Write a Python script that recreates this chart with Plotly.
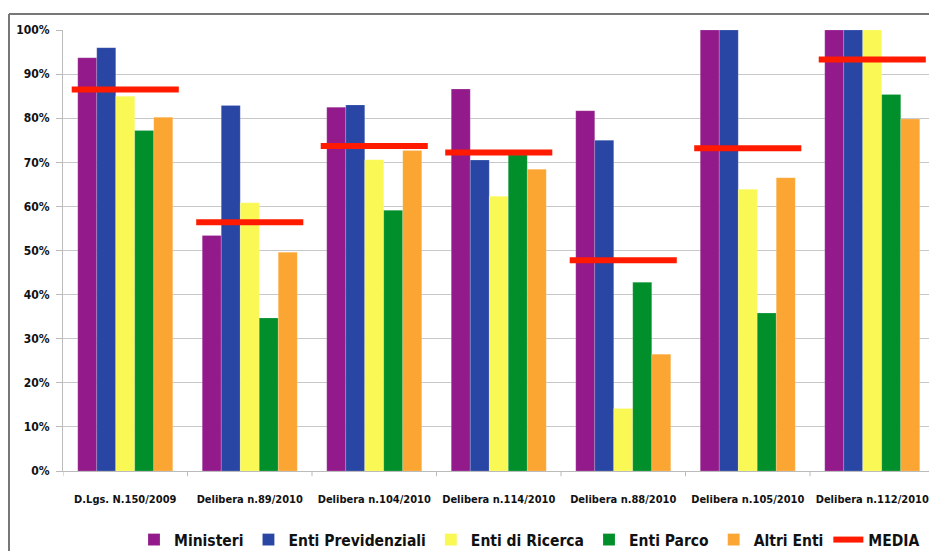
import plotly.graph_objects as go

categories = ["D.Lgs. N.150/2009", "Delibera n.89/2010", "Delibera n.104/2010",
              "Delibera n.114/2010", "Delibera n.88/2010", "Delibera n.105/2010",
              "Delibera n.112/2010"]

ministeri = [93.7, 53.4, 82.5, 86.6, 81.7, 100.0, 100.0]
enti_previdenziali = [96.0, 82.9, 83.0, 70.5, 75.0, 100.0, 100.0]
enti_ricerca = [85.0, 60.8, 70.6, 62.3, 14.2, 63.9, 100.0]
enti_parco = [77.2, 34.7, 59.1, 71.7, 42.8, 35.8, 85.4]
altri_enti = [80.2, 49.6, 72.7, 68.4, 26.5, 66.5, 79.8]
media = [86.5, 56.4, 73.7, 72.2, 47.8, 73.2, 93.3]

y_ticks = [0, 10, 20, 30, 40, 50, 60, 70, 80, 90, 100]
y_tick_labels = [f"{v}%" for v in y_ticks]

series = [
    ("Ministeri", ministeri, "#931A8A"),
    ("Enti Previdenziali", enti_previdenziali, "#2946A4"),
    ("Enti di Ricerca", enti_ricerca, "#FAF855"),
    ("Enti Parco", enti_parco, "#008F2A"),
    ("Altri Enti", altri_enti, "#FBA533"),
]

FONT = "DejaVu Sans Condensed, Liberation Sans Narrow, Liberation Sans, sans-serif"

x_idx = list(range(len(categories)))
fig = go.Figure()
for name, vals, color in series:
    fig.add_trace(go.Bar(
        x=x_idx, y=vals, name=f"<b>{name}</b>",
        marker=dict(color=color, line=dict(color="rgba(255,255,255,0.35)", width=0.5)),
    ))

# average markers: one horizontal segment centred on each category
half = 0.43
mx, my = [], []
for i, v in enumerate(media):
    mx += [i - half, i + half, None]
    my += [v, v, None]
fig.add_trace(go.Scatter(
    x=mx, y=my, mode="lines", name="<b>MEDIA</b>",
    line=dict(color="#FF1A00", width=6),
))

plot_left = 63
plot_right = 929
plot_top = 30
plot_bottom = 471
cat_px = 124.5
x_end = -0.5 + (plot_right - plot_left) / cat_px

fig.update_layout(
    width=929, height=551,
    margin=dict(l=plot_left, r=929 - plot_right, t=plot_top, b=551 - plot_bottom, autoexpand=False),
    paper_bgcolor="white", plot_bgcolor="white",
    barmode="group", bargap=0.237, bargroupgap=0,
    font=dict(family=FONT, color="#111111"),
    showlegend=True,
    legend=dict(
        orientation="h", x=(134 - plot_left) / (plot_right - plot_left), xanchor="left",
        y=-(523 - plot_bottom) / (plot_bottom - plot_top), yanchor="top",
        font=dict(family=FONT, size=15.5, color="#111111"),
        itemwidth=30, tracegroupgap=0,
        traceorder="normal",
    ),
    xaxis=dict(
        range=[-0.5, x_end],
        tickmode="array", tickvals=x_idx, ticktext=[f"<b>{c}</b>" for c in categories],
        tickfont=dict(family=FONT, size=11, color="#111111"),
        tickangle=0,
        showgrid=False, zeroline=False,
        showline=True, linecolor="#BBBBBB", linewidth=1,
        ticks="", ticklabelstandoff=18, ticklabeloverflow="allow",
    ),
    yaxis=dict(
        range=[0, 100],
        tickmode="array", tickvals=y_ticks, ticktext=[f"<b>{t}</b>" for t in y_tick_labels],
        tickfont=dict(family=FONT, size=12, color="#111111"),
        showgrid=True, gridcolor="#C8C8C8", gridwidth=1,
        zeroline=False,
        showline=True, linecolor="#BBBBBB", linewidth=1,
        ticks="outside", ticklen=6, tickcolor="#BBBBBB", ticklabelstandoff=4,
    ),
)

# category divider ticks below the baseline
for k in range(len(categories) + 1):
    xb = k - 0.5
    fig.add_shape(type="line", xref="x", yref="paper", x0=xb, x1=xb, y0=0, y1=-0.012,
                  line=dict(color="#BBBBBB", width=1))

# outer frame (top and left edges)
pw = plot_right - plot_left
ph = plot_bottom - plot_top
fx = (9 - plot_left) / pw
fy_top = (plot_bottom - 14) / ph
fy_bot = (plot_bottom - 560) / ph
fig.add_shape(type="line", xref="paper", yref="paper",
              x0=fx, x1=1.02, y0=fy_top, y1=fy_top,
              line=dict(color="#777777", width=2))
fig.add_shape(type="line", xref="paper", yref="paper",
              x0=fx, x1=fx, y0=fy_top, y1=fy_bot,
              line=dict(color="#777777", width=2))

fig.write_html("out.html")
